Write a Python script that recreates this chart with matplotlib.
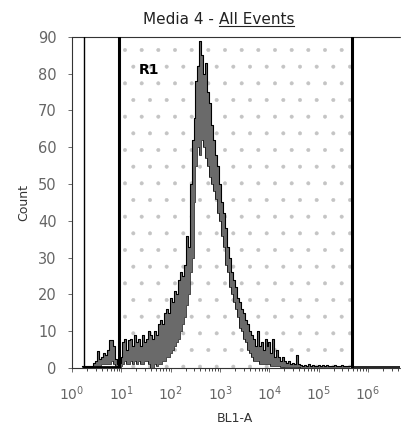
import numpy as np
import matplotlib
matplotlib.use('Agg')
import matplotlib.pyplot as plt
from matplotlib.lines import Line2D

# histogram channels (log10 of BL1-A) and counts
# each channel has an upper and lower trace value (the scanned trace is very noisy)
count_hi = [0.5, 0.5, 0.5, 0.5, 0.5, 0.5, 1.5, 2, 4.5, 2.5,
            3, 4, 3.5, 5, 7.5, 7.5, 6, 2.5, 1, 1.5,
            3, 7, 8, 5, 7.5, 8, 6, 9, 7, 8,
            6, 9, 7, 8, 10, 9, 8, 10, 9, 12,
            13, 12, 15, 16, 15, 19, 18, 21, 20, 24,
            26, 25, 28, 36, 33, 50, 62, 68, 78, 82,
            89, 85, 80, 83, 75, 72, 66, 62, 58, 55,
            50, 45, 42, 38, 33, 30, 26, 24, 22, 19,
            18, 16, 15, 13, 12, 10, 9, 8, 6, 10,
            6, 7, 5, 8, 6, 7, 4, 8, 3, 5,
            3, 2, 3, 2, 1.5, 2, 1, 1.5, 1, 3.5,
            1, 0.8, 0.5, 0.8, 0.5, 1, 0.5, 0.8, 0.5, 0.6,
            0.8, 0.5, 0.7, 0.5, 0.8, 0.5, 0.6, 0.5, 0.8, 0.5,
            0.6, 0.5, 0.7, 0.5, 0.6, 0.5, 0.5]
count_lo = [0, 0, 0, 0, 0, 0, 0, 0, 0.5, 0.5,
            1, 1, 1, 1, 1, 2, 1, 0.5, 0, 0,
            0.5, 1, 2, 1, 1, 2, 1, 2, 1, 2,
            1, 1, 2, 2, 1, 0, 0, 1, 0.5, 1,
            1, 2, 2, 3, 3, 4, 5, 6, 7, 8,
            10, 12, 14, 17, 20, 26, 30, 45, 55, 60,
            58, 62, 60, 57, 55, 52, 50, 48, 46, 42,
            40, 36, 33, 28, 26, 22, 20, 18, 16, 14,
            11, 10, 8, 7, 5, 4, 3, 2, 2, 2,
            1, 1, 1, 1, 1, 1, 0.5, 0.5, 0.5, 0.5,
            0.5, 0.3, 0.3, 0.3, 0.3, 0.3, 0.3, 0.3, 0.2, 0.2,
            0.2, 0, 0, 0, 0, 0, 0, 0, 0, 0,
            0, 0, 0, 0, 0, 0, 0, 0, 0, 0,
            0, 0, 0, 0, 0, 0, 0]
channel_log = np.linspace(0.2, 5.64, len(count_hi))

# gates (log10 positions)
gate_left = [0.24, 0.96]
gate_r1 = [0.96, 5.68]

x_ticks = [1, 10, 100, 1e3, 1e4, 1e5, 1e6]
x_ticklabels = ['$10^{%d}$' % i for i in range(7)]
y_ticks = [0, 10, 20, 30, 40, 50, 60, 70, 80, 90]

plt.rcParams['hatch.linewidth'] = 0.4

fig = plt.figure(figsize=(4.03, 4.34), dpi=100)
ax = fig.add_axes([0.179, 0.152, 0.814, 0.763])

x = 10 ** channel_log
lo = np.array(count_lo)
hi = np.array(count_hi)

# faint dotted texture inside R1 (scan artefact)
ax.axvspan(10 ** gate_r1[0], 10 ** gate_r1[1], facecolor='none',
           edgecolor='#c4c4c4', hatch='.', lw=0, zorder=0)

ax.fill_between(x, lo, hi, step='mid', color='#6a6a6a', lw=0, zorder=2)
ax.step(x, hi, where='mid', color='black', lw=0.8, zorder=3)
ax.step(x, lo, where='mid', color='black', lw=0.5, zorder=3)

# gate markers
ax.plot([10 ** gate_left[0]] * 2, [0, 90], color='black', lw=1.0, zorder=4)
ax.plot([10 ** gate_left[0], 10 ** gate_left[1]], [0.3, 0.3], color='black', lw=2, zorder=4)
for g in gate_r1:
  ax.plot([10 ** g] * 2, [0, 90], color='black', lw=2.2, zorder=4)
ax.plot([10 ** gate_r1[1], 10 ** 6.7], [0.3, 0.3], color='black', lw=1.2, zorder=4)

ax.text(10 ** 1.35, 81, 'R1', fontsize=10, fontweight='bold', ha='left', va='center')

ax.set_xscale('log')
ax.set_xlim(10 ** 0.04, 10 ** 6.65)
ax.set_ylim(0, 90)
ax.set_xticks(x_ticks)
ax.set_xticklabels(x_ticklabels, fontsize=10, color='#666666')
ax.set_yticks(y_ticks)
ax.set_yticklabels([str(v) for v in y_ticks], fontsize=10.5, color='#666666')
ax.tick_params(axis='both', length=3, width=0.6, color='#555555', direction='out')
ax.tick_params(axis='x', which='minor', length=2, width=0.5)
ax.tick_params(axis='x', pad=9)
ax.tick_params(axis='y', pad=8)

for side in ['top', 'left']:
  ax.spines[side].set_linestyle((0, (1, 1)))
  ax.spines[side].set_linewidth(0.8)
  ax.spines[side].set_color('#333333')
ax.spines['right'].set_visible(False)
ax.spines['bottom'].set_linestyle((0, (3, 1)))
ax.spines['bottom'].set_linewidth(0.8)
ax.spines['bottom'].set_color('#333333')

fig.text(0.583, 0.035, 'BL1-A', fontsize=9, color='#333333', ha='center', va='center')
ax.set_ylabel('Count', fontsize=9, color='#333333', labelpad=6)

# title with underlined second part
t1 = fig.text(0.543, 0.955, 'Media 4 - ', fontsize=11, ha='right', va='center', color='#222222')
t2 = fig.text(0.543, 0.955, 'All Events', fontsize=11, ha='left', va='center', color='#222222')
fig.canvas.draw()
bb = t2.get_window_extent().transformed(fig.transFigure.inverted())
fig.add_artist(Line2D([bb.x0, bb.x1], [bb.y0 + 0.002, bb.y0 + 0.002],
                      transform=fig.transFigure, color='#222222', lw=0.8))

plt.savefig('out.png', dpi=100)
